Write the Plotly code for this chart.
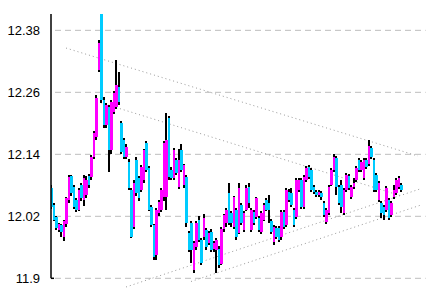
import plotly.graph_objects as go

opens = [12.075,12.042,12.018,11.993,12.003,11.980,12.005,12.052,12.098,12.077,
         12.052,12.033,12.080,12.052,12.062,12.098,12.096,12.135,12.173,12.303,
         12.412,12.245,12.197,12.232,12.148,12.222,12.231,12.270,12.200,12.168,
         12.135,12.125,12.071,11.999,12.129,12.094,12.071,12.090,12.162,12.114,
         12.038,12.003,11.945,12.026,12.033,12.057,12.057,12.210,12.110,12.094,
         12.129,12.077,12.148,12.080,12.096,11.988,12.007,11.916,11.961,12.013,
         11.974,11.980,11.993,11.968,11.990,11.957,11.955,11.957,11.928,11.995,
         12.007,12.065,12.026,11.999,12.033,11.988,12.042,11.993,12.033,12.077,
         11.993,12.029,12.018,12.016,11.990,12.013,12.052,12.046,12.011,11.970,
         11.997,11.997,11.980,12.028,12.003,12.067,12.065,12.033,12.018,12.071,
         12.090,12.038,12.090,12.115,12.109,12.077,12.067,12.061,12.065,12.046,
         12.009,12.026,12.081,12.110,12.133,12.077,12.081,12.026,12.071,12.098,
         12.057,12.077,12.090,12.129,12.110,12.094,12.129,12.121,12.152,12.129,
         12.100,12.052,12.046,12.038,12.033,12.052,12.022,12.057,12.065,12.077,
         12.081]
highs = [12.080,12.045,12.020,12.008,12.006,12.012,12.058,12.100,12.100,12.080,
         12.055,12.075,12.085,12.100,12.098,12.102,12.138,12.185,12.255,12.362,
         12.412,12.250,12.240,12.236,12.245,12.262,12.322,12.300,12.204,12.172,
         12.160,12.130,12.075,12.090,12.135,12.098,12.120,12.150,12.165,12.118,
         12.042,12.005,12.036,12.052,12.075,12.165,12.220,12.215,12.115,12.152,
         12.133,12.150,12.160,12.122,12.100,11.992,12.010,11.972,12.010,12.020,
         11.978,12.025,11.997,11.992,11.995,11.972,11.978,11.962,12.000,12.025,
         12.036,12.085,12.030,12.060,12.037,12.085,12.046,12.030,12.080,12.085,
         12.037,12.032,12.058,12.020,12.030,12.046,12.055,12.062,12.015,12.003,
         12.001,12.001,12.032,12.033,12.075,12.072,12.075,12.036,12.094,12.094,
         12.094,12.100,12.117,12.120,12.113,12.081,12.070,12.071,12.069,12.050,
         12.037,12.081,12.114,12.140,12.137,12.081,12.090,12.075,12.104,12.102,
         12.081,12.095,12.117,12.133,12.129,12.133,12.133,12.167,12.156,12.133,
         12.104,12.089,12.050,12.042,12.079,12.056,12.050,12.080,12.094,12.098,
         12.085]
lows = [12.035,12.010,11.993,11.990,11.980,11.972,12.000,12.045,12.060,12.035,
        12.028,12.030,12.050,12.040,12.055,12.075,12.090,12.130,12.168,12.300,
        12.240,12.190,12.190,12.105,12.140,12.218,12.228,12.236,12.140,12.130,
        12.130,12.070,11.978,11.995,12.060,12.050,12.068,12.085,12.105,12.030,
        12.000,11.935,11.936,12.020,12.028,12.050,12.033,12.090,12.090,12.090,
        12.100,12.072,12.105,12.075,12.000,11.950,11.930,11.910,11.955,11.970,
        11.925,11.975,11.955,11.965,11.950,11.950,11.910,11.920,11.925,11.990,
        12.000,12.003,12.000,11.995,11.975,11.985,12.003,11.990,12.030,12.036,
        11.990,12.003,12.015,11.990,11.986,12.010,12.030,12.007,11.986,11.965,
        11.976,11.970,11.975,11.996,12.000,12.048,12.038,11.999,12.015,12.068,
        12.034,12.034,12.086,12.092,12.067,12.063,12.057,12.057,12.052,12.018,
        12.005,12.022,12.078,12.106,12.062,12.042,12.026,12.022,12.067,12.071,
        12.053,12.073,12.086,12.106,12.106,12.090,12.111,12.117,12.131,12.067,
        12.067,12.048,12.016,12.013,12.029,12.012,12.018,12.053,12.061,12.073,
        12.067]
closes = [12.038,12.013,11.997,12.005,11.990,12.010,12.055,12.096,12.066,12.038,
          12.033,12.071,12.055,12.094,12.090,12.080,12.135,12.181,12.249,12.355,
          12.245,12.197,12.236,12.148,12.241,12.259,12.274,12.241,12.144,12.135,
          12.154,12.074,11.980,12.085,12.065,12.055,12.115,12.148,12.110,12.033,
          12.003,11.941,12.033,12.048,12.071,12.162,12.168,12.096,12.094,12.148,
          12.103,12.129,12.110,12.119,12.007,11.955,11.955,11.968,12.007,11.974,
          11.930,12.016,11.961,11.988,11.955,11.968,11.974,11.925,11.995,12.022,
          12.033,12.007,12.007,12.057,11.980,12.075,12.007,12.026,12.075,12.046,
          12.033,12.007,12.055,11.993,12.026,12.042,12.033,12.033,11.990,11.999,
          11.980,11.974,12.028,11.999,12.071,12.052,12.042,12.003,12.090,12.090,
          12.038,12.096,12.113,12.096,12.071,12.067,12.061,12.067,12.057,12.022,
          12.033,12.077,12.110,12.135,12.077,12.046,12.038,12.071,12.100,12.075,
          12.077,12.085,12.113,12.110,12.125,12.129,12.115,12.156,12.135,12.071,
          12.071,12.085,12.026,12.022,12.075,12.016,12.046,12.071,12.090,12.094,
          12.071]

tick_vals = [11.9, 12.02, 12.14, 12.26, 12.38]
tick_text = ["11.9", "12.02", "12.14", "12.26", "12.38"]

# trend lines: (x index start, price start, x index end, price end)
trend_x0 = [5.8, 18.2, 29.8, 55.8]
trend_y0 = [12.3457, 12.2422, 11.8832, 11.8938]
trend_x1 = [146.6, 139.4, 147.4, 147.8]
trend_y1 = [12.1367, 12.0603, 12.0729, 12.0419]

UP = "#FF00FF"
DOWN = "#00CCFF"

n = len(closes)
xs = list(range(n))
body_base = [min(o, c) for o, c in zip(opens, closes)]
body_h = [max(abs(c - o), 0.0015) for o, c in zip(opens, closes)]
body_col = [UP if c >= o else DOWN for o, c in zip(opens, closes)]
wick_h = [h - l for h, l in zip(highs, lows)]

fig = go.Figure()
fig.add_trace(go.Bar(x=xs, y=wick_h, base=lows, width=0.42,
                     marker=dict(color="#000000", line=dict(width=0)),
                     hoverinfo="skip", showlegend=False))
fig.add_trace(go.Bar(x=xs, y=body_h, base=body_base, width=1.0,
                     marker=dict(color=body_col, line=dict(width=0)),
                     hoverinfo="skip", showlegend=False))

# dashed horizontal gridlines
for v in tick_vals:
    fig.add_shape(type="line", xref="paper", yref="y", x0=0.0107, x1=0.999, y0=v, y1=v,
                  line=dict(color="#bdbdbd", width=1, dash="6px,4px"), layer="below")

for a, b, c, d in zip(trend_x0, trend_y0, trend_x1, trend_y1):
    fig.add_shape(type="line", xref="x", yref="y", x0=a, y0=b, x1=c, y1=d,
                  line=dict(color="#9a9a9a", width=1, dash="1px,3px"), layer="below")

# left axis line (from 11.9 upward)
fig.add_shape(type="line", xref="paper", yref="y", x0=0, x1=0, y0=11.9, y1=12.4116,
              line=dict(color="#000000", width=1.5))
fig.add_shape(type="line", xref="paper", yref="y", x0=0, x1=0.008, y0=11.9, y1=11.9,
              line=dict(color="#000000", width=1.5))

fig.update_layout(
    width=432, height=292,
    margin=dict(l=51, r=6, t=14, b=0),
    paper_bgcolor="white", plot_bgcolor="white",
    barmode="overlay", bargap=0,
    showlegend=False,
    xaxis=dict(visible=False, range=[-0.2, 149.8], fixedrange=True),
    yaxis=dict(range=[11.8735, 12.4116], tickvals=tick_vals, ticktext=tick_text,
               showgrid=False, showline=False, zeroline=False, ticks="",
               ticklabelstandoff=10,
               tickfont=dict(family="Liberation Sans Narrow, Arial Narrow, Liberation Sans, Arial",
                             size=13, color="#000000"),
               fixedrange=True),
)

fig.write_html("out.html")
